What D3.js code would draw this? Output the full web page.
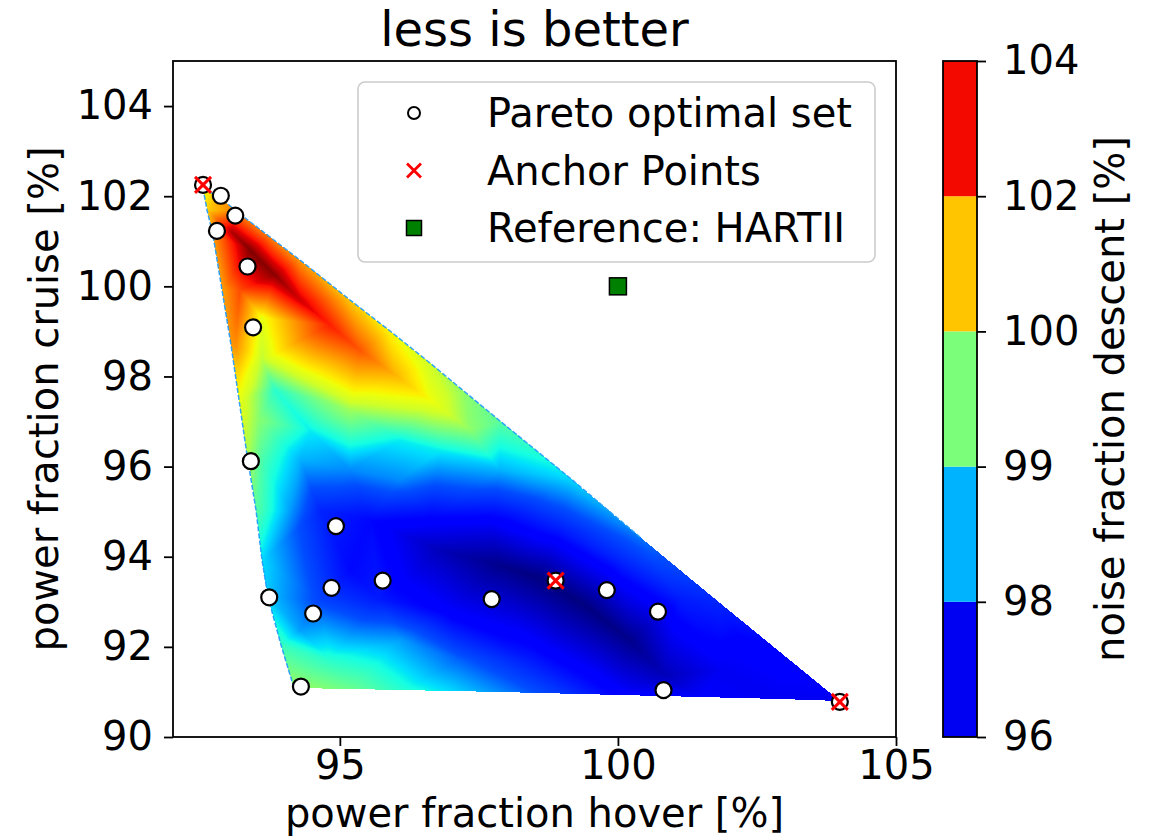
<!DOCTYPE html>
<html>
<head>
<meta charset="utf-8">
<script src="https://cdn.jsdelivr.net/npm/d3@7"></script>
<style>
body { margin: 0; background: #fff; }
svg text { font-family: "DejaVu Sans", sans-serif; fill: #000; }
</style>
</head>
<body>
<div class="chart"></div>
<script>
// Pareto optimal set (power fraction hover / cruise, %)
var paretoHover  = [92.54, 92.86, 93.12, 92.79, 93.34, 93.44, 93.40, 94.93, 95.77, 94.85, 93.73, 94.52, 94.30, 97.73, 98.88, 99.80, 100.72, 100.82, 103.99];
var paretoCruise = [102.25, 102.01, 101.57, 101.23, 100.44, 99.09, 96.12, 94.68, 93.47, 93.31, 93.10, 92.74, 91.12, 93.06, 93.47, 93.26, 92.78, 91.04, 90.78];

// anchor points of the front
var anchorHover  = [92.54, 98.88, 103.99];
var anchorCruise = [102.25, 93.47, 90.78];

// reference helicopter
var refHover = [100], refCruise = [100];

// colorbar levels of noise fraction descent
var noiseLevels = [96, 98, 99, 100, 102, 104];

var xTicks = [95, 100, 105];
var yTicks = [90, 92, 94, 96, 98, 100, 102, 104];

// interpolated noise field: outline nodes in order [hover, cruise, noise]
var meshBoundary = [
    [92.539, 102.182, 100.3], [92.881, 101.938, 101.4], [93.133, 101.671, 101.8],
    [93.744, 101.095, 101.8], [94.284, 100.584, 101.5], [95.183, 99.697, 101.0],
    [95.902, 99.009, 100.5], [96.621, 98.299, 100.0], [97.250, 97.655, 99.6],
    [97.880, 97.012, 99.3], [99.138, 95.747, 98.7], [100.397, 94.438, 98.2],
    [101.835, 92.973, 97.6], [102.914, 91.886, 97.2], [103.993, 90.799, 97.0],
    [102.914, 90.843, 97.0], [101.476, 90.888, 97.1], [100.037, 90.932, 97.2],
    [98.959, 90.965, 97.8], [97.880, 90.999, 98.3], [96.981, 91.021, 98.7],
    [96.082, 91.043, 99.0], [95.183, 91.065, 99.4], [94.176, 91.087, 99.7],
    [93.942, 92.041, 99.1], [93.708, 93.106, 98.6], [93.600, 93.927, 98.7],
    [93.492, 95.037, 99.3], [93.331, 96.257, 99.8], [93.187, 97.478, 100.3],
    [93.043, 98.698, 101.5], [92.881, 99.918, 101.4], [92.719, 101.139, 101.5],
    [92.611, 101.694, 100.9]
];

// inner nodes of the noise field [hover, cruise, noise]
var meshInner = [
    [93.061, 101.205, 103.6], [93.385, 100.806, 104.0], [93.834, 100.251, 103.9],
    [94.284, 99.697, 103.3], [94.823, 99.142, 102.8], [95.362, 98.587, 102.2],
    [95.992, 98.033, 101.2], [96.621, 97.478, 100.4], [97.340, 96.812, 99.6],
    [93.205, 99.918, 102.3], [93.600, 99.297, 100.3], [93.133, 98.698, 101.6],
    [93.205, 97.922, 100.6], [93.600, 98.365, 99.9], [93.834, 97.700, 99.0],
    [93.528, 97.034, 99.6], [93.600, 96.146, 99.2], [94.284, 97.922, 99.9],
    [94.643, 97.478, 99.5], [95.183, 97.256, 99.7], [94.463, 96.812, 98.8],
    [94.284, 96.146, 98.5], [95.183, 95.924, 98.3], [96.082, 96.590, 98.8],
    [96.801, 96.368, 98.8], [96.082, 95.702, 98.3], [97.880, 95.924, 98.5],
    [98.779, 95.481, 98.3], [94.104, 95.037, 98.4], [94.643, 95.037, 97.6],
    [95.542, 94.815, 97.3], [96.621, 94.815, 97.2], [97.700, 94.593, 96.9],
    [98.959, 94.593, 97.5], [100.037, 93.927, 97.6], [101.116, 93.040, 97.5],
    [102.195, 92.152, 97.2], [96.801, 94.149, 96.5], [97.880, 93.817, 96.1],
    [98.599, 93.528, 96.0], [99.408, 92.929, 96.0], [100.217, 92.152, 96.1],
    [100.847, 91.376, 96.5], [95.183, 93.706, 97.3], [94.643, 93.040, 97.9],
    [94.284, 92.374, 98.4], [94.823, 91.709, 99.0], [96.082, 92.152, 98.4],
    [95.722, 93.040, 97.5], [96.981, 92.818, 97.1], [97.160, 91.709, 98.1],
    [98.419, 91.709, 97.5], [99.678, 91.487, 97.0], [101.835, 91.487, 97.0]
];

var width = 1153, height = 836;
var fs = 40;

var svg = d3.select("div.chart")
    .append("svg")
    .attr("width", width)
    .attr("height", height);

var x = d3.scaleLinear().domain([92, 105]).range([173, 896]);
var y = d3.scaleLinear().domain([90, 105]).range([737, 61]);

// matplotlib "jet"
var jetR = d3.scaleLinear().domain([0, 0.35, 0.66, 0.89, 1]).range([0, 0, 1, 1, 0.5]).clamp(true);
var jetG = d3.scaleLinear().domain([0, 0.125, 0.375, 0.64, 0.91, 1]).range([0, 0, 1, 1, 0, 0]).clamp(true);
var jetB = d3.scaleLinear().domain([0, 0.11, 0.34, 0.65, 1]).range([0.5, 1, 1, 0, 0]).clamp(true);
var norm = d3.scaleLinear().domain(noiseLevels).range([0, 0.2, 0.4, 0.6, 0.8, 1]).clamp(true);
function jet(t) {
    return [Math.round(jetR(t) * 255), Math.round(jetG(t) * 255), Math.round(jetB(t) * 255)];
}

// gouraud shaded triangulation, painted on a canvas
var x0 = x.range()[0], y0 = y.range()[1];
var w = Math.round(x.range()[1] - x0), h = Math.round(y.range()[0] - y0);
var canvas = document.createElement("canvas");
canvas.width = w; canvas.height = h;
var ctx = canvas.getContext("2d");
var img = ctx.createImageData(w, h);

var mesh = meshBoundary.concat(meshInner);
var pts = mesh.map(function (d) { return [x(d[0]) - x0, y(d[1]) - y0]; });
var outline = meshBoundary.map(function (d) { return [x(d[0]) - x0, y(d[1]) - y0]; });
var delaunay = d3.Delaunay.from(pts);
var tri = delaunay.triangles;

for (var t = 0; t < tri.length; t += 3) {
    var a = pts[tri[t]], b = pts[tri[t + 1]], c = pts[tri[t + 2]];
    var va = mesh[tri[t]][2], vb = mesh[tri[t + 1]][2], vc = mesh[tri[t + 2]][2];
    var det = (b[1] - c[1]) * (a[0] - c[0]) + (c[0] - b[0]) * (a[1] - c[1]);
    if (Math.abs(det) < 1e-9) continue;
    var i0 = Math.max(0, Math.floor(Math.min(a[0], b[0], c[0]))),
        i1 = Math.min(w - 1, Math.ceil(Math.max(a[0], b[0], c[0]))),
        j0 = Math.max(0, Math.floor(Math.min(a[1], b[1], c[1]))),
        j1 = Math.min(h - 1, Math.ceil(Math.max(a[1], b[1], c[1])));
    for (var j = j0; j <= j1; j++) {
        for (var i = i0; i <= i1; i++) {
            var px = i + 0.5, py = j + 0.5;
            var l1 = ((b[1] - c[1]) * (px - c[0]) + (c[0] - b[0]) * (py - c[1])) / det;
            var l2 = ((c[1] - a[1]) * (px - c[0]) + (a[0] - c[0]) * (py - c[1])) / det;
            var l3 = 1 - l1 - l2;
            if (l1 < -1e-6 || l2 < -1e-6 || l3 < -1e-6) continue;
            if (!d3.polygonContains(outline, [px, py])) continue;
            var col = jet(norm(l1 * va + l2 * vb + l3 * vc));
            var k = (j * w + i) * 4;
            img.data[k] = col[0]; img.data[k + 1] = col[1]; img.data[k + 2] = col[2]; img.data[k + 3] = 255;
        }
    }
}
ctx.putImageData(img, 0, 0);

svg.append("image")
    .attr("x", x0).attr("y", y0)
    .attr("width", w).attr("height", h)
    .attr("href", canvas.toDataURL());

// thin edge along the left and upper outline
var edgeLine = d3.line().x(function (d) { return x(d[0]); }).y(function (d) { return y(d[1]); });
svg.append("path")
    .attr("d", edgeLine(meshBoundary.slice(23).concat(meshBoundary.slice(0, 12))))
    .attr("fill", "none")
    .attr("stroke", "#1e9bff")
    .attr("stroke-opacity", 0.9)
    .attr("stroke-width", 1.5)
    .attr("stroke-dasharray", "5,2");

// axes
var xAxis = svg.append("g")
    .attr("transform", "translate(0," + y.range()[0] + ")")
    .call(d3.axisBottom(x).tickValues(xTicks).tickSize(9).tickPadding(5).tickFormat(d3.format("d")));
var yAxis = svg.append("g")
    .attr("transform", "translate(" + x.range()[0] + ",0)")
    .call(d3.axisLeft(y).tickValues(yTicks).tickSize(9).tickPadding(11).tickFormat(d3.format("d")));
[xAxis, yAxis].forEach(function (g) {
    g.select(".domain").remove();
    g.selectAll("line").attr("stroke", "#000").attr("stroke-width", 1.8);
    g.selectAll("text").style("font-size", fs + "px").style("font-family", "DejaVu Sans");
});

svg.append("rect")
    .attr("x", x0).attr("y", y0)
    .attr("width", w).attr("height", h)
    .attr("fill", "none")
    .attr("stroke", "#000")
    .attr("stroke-width", 1.8);

// pareto points
var pareto = paretoHover.map(function (d, i) { return [d, paretoCruise[i]]; });
svg.selectAll("circle.pareto")
    .data(pareto)
    .enter().append("circle")
    .attr("class", "pareto")
    .attr("cx", function (d) { return x(d[0]); })
    .attr("cy", function (d) { return y(d[1]); })
    .attr("r", 8)
    .attr("fill", "#fff")
    .attr("stroke", "#000")
    .attr("stroke-width", 2.2);

var crossPath = function (s) { return "M" + -s + "," + -s + "L" + s + "," + s + "M" + -s + "," + s + "L" + s + "," + -s; };
var anchors = anchorHover.map(function (d, i) { return [d, anchorCruise[i]]; });
svg.selectAll("path.anchor")
    .data(anchors)
    .enter().append("path")
    .attr("class", "anchor")
    .attr("transform", function (d) { return "translate(" + x(d[0]) + "," + y(d[1]) + ")"; })
    .attr("d", crossPath(8))
    .attr("stroke", "#ff0000")
    .attr("stroke-width", 3)
    .attr("fill", "none");

var refs = refHover.map(function (d, i) { return [d, refCruise[i]]; });
svg.selectAll("rect.ref")
    .data(refs)
    .enter().append("rect")
    .attr("class", "ref")
    .attr("x", function (d) { return x(d[0]) - 8.5; })
    .attr("y", function (d) { return y(d[1]) - 8.5; })
    .attr("width", 17).attr("height", 17)
    .attr("fill", "#008000")
    .attr("stroke", "#000")
    .attr("stroke-width", 1.5);

// legend
var legend = svg.append("g");
legend.append("rect")
    .attr("x", 358).attr("y", 82)
    .attr("width", 517).attr("height", 180)
    .attr("rx", 7)
    .attr("fill", "#fff").attr("fill-opacity", 0.8)
    .attr("stroke", "#cccccc").attr("stroke-width", 1.6);
var legendRows = ["Pareto optimal set", "Anchor Points", "Reference: HARTII"];
legendRows.forEach(function (label, i) {
    var cy = 113 + i * 57.5;
    var g = legend.append("g").attr("transform", "translate(414," + cy + ")");
    if (i === 0) {
        g.append("circle").attr("r", 6).attr("fill", "#fff").attr("stroke", "#000").attr("stroke-width", 2);
    } else if (i === 1) {
        g.append("path").attr("d", crossPath(7)).attr("stroke", "#ff0000").attr("stroke-width", 2.8);
    } else {
        g.append("rect").attr("x", -7.5).attr("y", -7.5).attr("width", 15).attr("height", 15)
            .attr("fill", "#008000").attr("stroke", "#000").attr("stroke-width", 1.5);
    }
    legend.append("text")
        .attr("x", 487).attr("y", cy + 14)
        .style("font-size", fs + "px")
        .text(label);
});

// colorbar
var cbX = 943, cbW = 34;
var cbY = d3.scaleLinear().domain(noiseLevels).range(d3.range(6).map(function (i) { return 737 - i * 676 / 5; }));
var cb = svg.append("g");
cb.selectAll("rect.band")
    .data(d3.range(noiseLevels.length - 1))
    .enter().append("rect")
    .attr("class", "band")
    .attr("x", cbX)
    .attr("y", function (i) { return cbY(noiseLevels[i + 1]); })
    .attr("width", cbW)
    .attr("height", function (i) { return cbY(noiseLevels[i]) - cbY(noiseLevels[i + 1]); })
    .attr("fill", function (i) { var c = jet(0.1 + 0.2 * i); return "rgb(" + c.join(",") + ")"; });
cb.append("rect")
    .attr("x", cbX).attr("y", 61)
    .attr("width", cbW).attr("height", 676)
    .attr("fill", "none").attr("stroke", "#000").attr("stroke-width", 1.8);
var cbAxis = cb.append("g")
    .attr("transform", "translate(" + (cbX + cbW) + ",0)")
    .call(d3.axisRight(cbY).tickValues(noiseLevels).tickSize(9).tickPadding(17).tickFormat(d3.format("d")));
cbAxis.select(".domain").remove();
cbAxis.selectAll("line").attr("stroke", "#000").attr("stroke-width", 1.8);
cbAxis.selectAll("text").style("font-size", fs + "px").style("font-family", "DejaVu Sans");

// titles
svg.append("text")
    .attr("x", (x.range()[0] + x.range()[1]) / 2).attr("y", 46)
    .attr("text-anchor", "middle")
    .style("font-size", (fs * 1.2) + "px")
    .text("less is better");
svg.append("text")
    .attr("x", (x.range()[0] + x.range()[1]) / 2).attr("y", 827)
    .attr("text-anchor", "middle")
    .style("font-size", fs + "px")
    .text("power fraction hover [%]");
svg.append("text")
    .attr("transform", "translate(58," + (y0 + h / 2) + ") rotate(-90)")
    .attr("text-anchor", "middle")
    .style("font-size", fs + "px")
    .text("power fraction cruise [%]");
svg.append("text")
    .attr("transform", "translate(1124," + (y0 + h / 2) + ") rotate(-90)")
    .attr("text-anchor", "middle")
    .style("font-size", fs + "px")
    .text("noise fraction descent [%]");
</script>
</body>
</html>
